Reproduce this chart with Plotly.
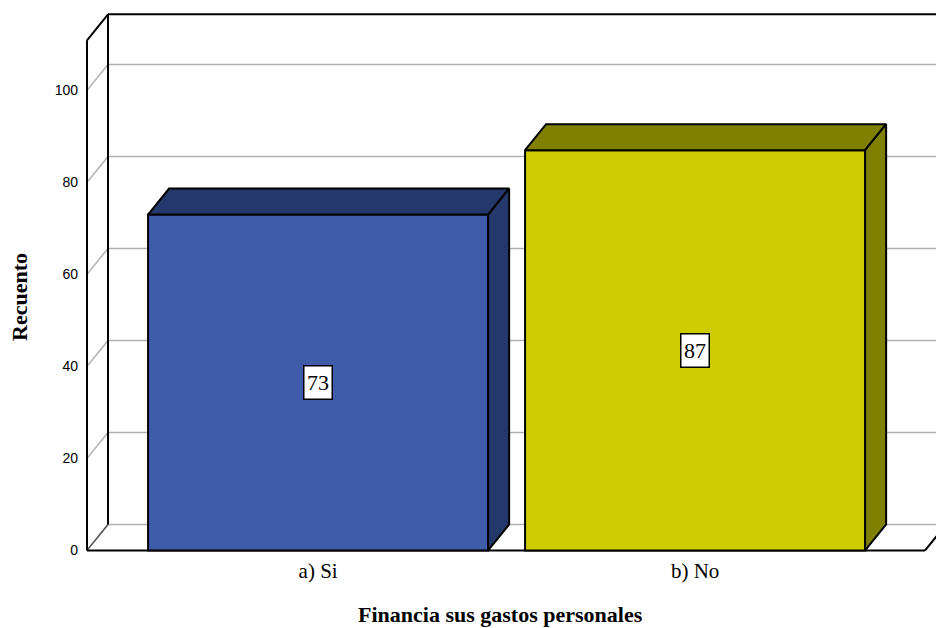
import plotly.graph_objects as go

categories = ["a) Si", "b) No"]
counts = [73, 87]
y_ticks = [0, 20, 40, 60, 80, 100]
front_colors = ["#3F5CA9", "#CCCC00"]
side_colors = ["#25386B", "#808000"]
x_title = "Financia sus gastos personales"
y_title = "Recuento"

# pseudo-3D geometry, in axis units
BAR_W = 0.902
DX = 0.0557
DY = 5.65
X_FRONT_L = -0.613
X_FRONT_R = 1.61
Y_TOP = 110.9
BLACK = "#000000"
GRID = "#B0B0B0"

# pixel layout
ML, MT, MB = 84, 6, 70
PX_Y = 4.6
PX_X = 377.0
W, H = 936, 628
Y0_PX = 550.4
x_range = [X_FRONT_L - (87 - ML) / PX_X, X_FRONT_L + (W - 87) / PX_X]
y_range = [-(H - MB - Y0_PX) / PX_Y, (Y0_PX - MT) / PX_Y]

shapes = []


def seg(x0, y0, x1, y1, color, width):
    shapes.append(dict(type="line", xref="x", yref="y", x0=x0, y0=y0, x1=x1, y1=y1,
                       line=dict(color=color, width=width), layer="below"))


xb = X_FRONT_L + DX
xe = X_FRONT_R + DX
for t in y_ticks:
    seg(X_FRONT_L, t, xb, t + DY, GRID, 1.5)
    seg(xb, t + DY, xe, t + DY, GRID, 1.5)
seg(X_FRONT_L, 0, xb, DY, "#555555", 1.5)
seg(X_FRONT_L, 0, X_FRONT_L, Y_TOP, BLACK, 2)
seg(xb, DY, xb, Y_TOP + DY, BLACK, 2)
seg(X_FRONT_L, Y_TOP, xb, Y_TOP + DY, BLACK, 2)
seg(xb, Y_TOP + DY, xe, Y_TOP + DY, BLACK, 2)
seg(X_FRONT_L, 0, X_FRONT_R, 0, BLACK, 2)
seg(X_FRONT_R, 0, xe, DY, BLACK, 2)

fig = go.Figure()
xs = list(range(len(categories)))
fig.add_trace(go.Bar(x=xs, y=counts, width=BAR_W, marker=dict(color=front_colors, line=dict(color=BLACK, width=2)),
                     hoverinfo="skip", showlegend=False))
for i, v in enumerate(counts):
    l, r = i - BAR_W / 2, i + BAR_W / 2
    fig.add_trace(go.Scatter(x=[l, l + DX, r + DX, r, l], y=[v, v + DY, v + DY, v, v], mode="lines", fill="toself",
                             fillcolor=side_colors[i], line=dict(color=BLACK, width=2), hoverinfo="skip", showlegend=False))
    fig.add_trace(go.Scatter(x=[r, r + DX, r + DX, r, r], y=[0, DY, v + DY, v, 0], mode="lines", fill="toself",
                             fillcolor=side_colors[i], line=dict(color=BLACK, width=2), hoverinfo="skip", showlegend=False))

annotations = [
    dict(x=i, y=v / 2, xref="x", yref="y", text=str(v), showarrow=False, bgcolor="#FFFFFF", bordercolor=BLACK,
         borderwidth=1.5, borderpad=0, width=27, height=32, font=dict(family="Liberation Serif", size=22, color=BLACK))
    for i, v in enumerate(counts)
]
annotations.append(dict(x=(500 - ML) / (W - ML), y=(H - MB - 614) / (H - MT - MB), xref="paper", yref="paper",
                        xanchor="center", yanchor="middle", text=f"<b>{x_title}</b>", showarrow=False,
                        font=dict(family="Liberation Serif", size=22, color=BLACK)))
annotations.append(dict(x=(19 - ML) / (W - ML), y=(H - MB - 297) / (H - MT - MB), xref="paper", yref="paper",
                        xanchor="center", yanchor="middle", text=f"<b>{y_title}</b>", textangle=-90,
                        showarrow=False, font=dict(family="Liberation Serif", size=22, color=BLACK)))

fig.update_layout(
    width=W, height=H, margin=dict(l=ML, r=0, t=MT, b=MB, pad=0), paper_bgcolor="#FFFFFF", plot_bgcolor="#FFFFFF",
    shapes=shapes, annotations=annotations, showlegend=False,
    xaxis=dict(range=x_range, tickmode="array", tickvals=xs, ticktext=categories, showgrid=False, zeroline=False,
               showline=False, ticks="", ticklabelstandoff=-2,
               tickfont=dict(family="Liberation Serif", size=21, color=BLACK)),
    yaxis=dict(range=y_range, tickmode="array", tickvals=y_ticks, showgrid=False, zeroline=False, showline=False,
               ticks="", ticklabelstandoff=5, tickfont=dict(family="Liberation Sans", size=14, color=BLACK)),
)
fig.write_html("out.html", config=dict(displayModeBar=False),
               post_script="document.body.style.margin='0';document.documentElement.style.overflow='hidden';")
